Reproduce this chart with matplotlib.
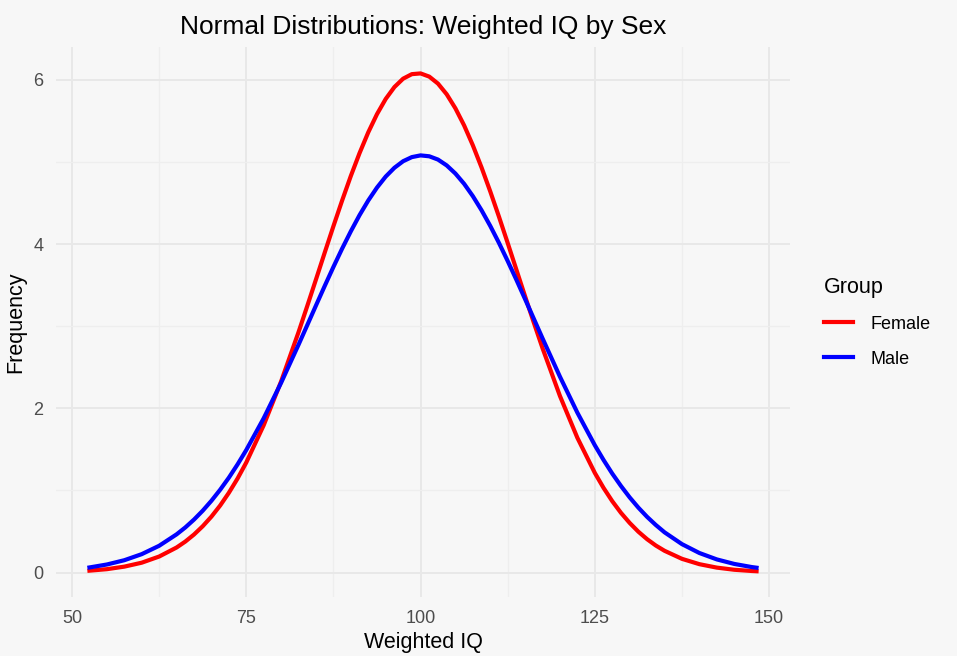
import matplotlib
matplotlib.use('Agg')
import matplotlib.pyplot as plt

# values (Weighted IQ vs frequency)
iq = [52.5, 55, 57.5, 60, 62.5, 65, 66.25, 67.5, 68.75, 70, 71.25, 72.5, 73.75,
      75, 77.5, 80, 82.5, 83.75, 85, 86.25, 87.5, 88.75, 90, 91.25, 92.5, 93.75,
      95, 96.25, 97.5, 98.75, 100, 101.25, 102.5, 103.75, 105, 106.25, 107.5,
      108.75, 110, 111.25, 112.5, 113.75, 115, 116.25, 117.5, 120, 122.5, 125,
      126.25, 127.5, 128.75, 130, 131.25, 132.5, 133.75, 135, 137.5, 140, 142.5,
      145, 147.5, 148.2]
female = [0.024, 0.042, 0.073, 0.121, 0.196, 0.306, 0.378, 0.464, 0.565, 0.682,
          0.817, 0.972, 1.146, 1.341, 1.795, 2.329, 2.929, 3.247, 3.570, 3.896,
          4.218, 4.531, 4.830, 5.108, 5.361, 5.582, 5.767, 5.912, 6.014, 6.069,
          6.078, 6.039, 5.954, 5.824, 5.653, 5.445, 5.203, 4.933, 4.641, 4.333,
          4.013, 3.688, 3.363, 3.043, 2.732, 2.150, 1.641, 1.214, 1.032, 0.870,
          0.728, 0.605, 0.498, 0.407, 0.330, 0.266, 0.168, 0.103, 0.061, 0.035,
          0.020, 0.017]
male = [0.063, 0.099, 0.151, 0.225, 0.327, 0.466, 0.550, 0.646, 0.754, 0.875,
        1.009, 1.156, 1.318, 1.493, 1.880, 2.312, 2.776, 3.014, 3.253, 3.490,
        3.722, 3.945, 4.156, 4.353, 4.531, 4.688, 4.822, 4.929, 5.009, 5.059,
        5.080, 5.069, 5.029, 4.958, 4.859, 4.734, 4.584, 4.412, 4.221, 4.014,
        3.794, 3.565, 3.329, 3.091, 2.852, 2.385, 1.947, 1.551, 1.372, 1.206,
        1.055, 0.916, 0.791, 0.679, 0.580, 0.491, 0.347, 0.239, 0.161, 0.106,
        0.068, 0.060]
groups = ['Female', 'Male']
colors = {'Female': '#FF0000', 'Male': '#0000FF'}

plt.rcParams['font.family'] = ['Liberation Sans', 'DejaVu Sans']
bg = '#F7F7F7'

fig = plt.figure(figsize=(9.57, 6.56), dpi=100, facecolor=bg)
ax = fig.add_axes([0.0585, 0.0899, 0.767, 0.8385])
ax.set_facecolor(bg)

for g, vals in zip(groups, [female, male]):
    ax.plot(iq, vals, color=colors[g], lw=3.0, label=g, solid_joinstyle='round')

ax.set_xlim(47.7, 153.0)
ax.set_ylim(-0.297, 6.40)
ax.set_xticks([50, 75, 100, 125, 150])
ax.set_yticks([0, 2, 4, 6])
ax.set_xticks([62.5, 87.5, 112.5, 137.5], minor=True)
ax.set_yticks([1, 3, 5], minor=True)
ax.grid(which='major', color='#E8E8E8', lw=1.4)
ax.grid(which='minor', color='#EEEEEE', lw=0.9)
ax.set_axisbelow(True)
for s in ax.spines.values():
    s.set_visible(False)
ax.tick_params(which='both', length=0)
ax.tick_params(axis='x', pad=9, labelsize=13, labelcolor='#4D4D4D')
ax.tick_params(axis='y', pad=9, labelsize=13, labelcolor='#4D4D4D')

ax.set_xlabel('Weighted IQ', fontsize=15.5, labelpad=4)
ax.set_ylabel('Frequency', fontsize=15.5, labelpad=5)
ax.set_title('Normal Distributions: Weighted IQ by Sex', fontsize=19, pad=9)

leg = fig.legend(loc='upper left', bbox_to_anchor=(0.8437, 0.603), title='Group',
                 frameon=False, fontsize=13, title_fontsize=15.5, handlelength=1.6,
                 handletextpad=1.0, labelspacing=1.0, alignment='left')

fig.savefig('out.png', dpi=100, facecolor=bg)
